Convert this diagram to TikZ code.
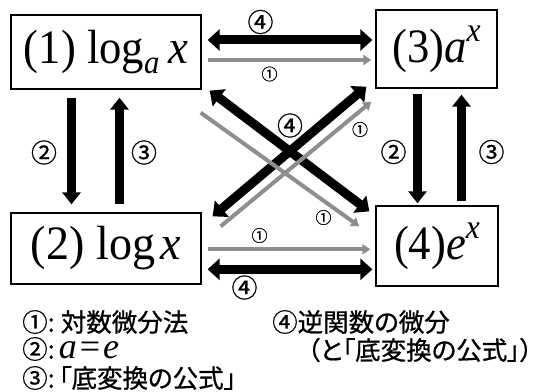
\documentclass[tikz,border=0pt]{standalone}
\usepackage{fontspec}
\usepackage{graphicx}
\setmainfont{Liberation Serif}
\newfontfamily\jp{Noto Sans CJK JP}[RawFeature=+palt, FakeBold=0.8]
\usetikzlibrary{arrows.meta,calc}
\definecolor{arrgray}{RGB}{142,142,142}
\begin{document}
\begin{tikzpicture}[x=1pt,y=1pt,
  box/.style={draw, line width=1.3pt, inner sep=0pt, font=\fontsize{48}{50}\selectfont},
  dbl/.style={line width=9pt, {Triangle[width=21pt,length=12pt]}-{Triangle[width=21pt,length=12pt]}},
  sgl/.style={line width=9pt, -{Triangle[width=18pt,length=12pt]}},
  gry/.style={line width=4pt, draw=arrgray, -{Triangle[width=10pt,length=8pt]}},
  lab/.style={font=\jp\fontsize{26}{26}\selectfont, inner sep=0pt},
  slab/.style={font=\jp\fontsize{16}{16}\selectfont, inner sep=0pt},
  legend/.style={font=\jp\fontsize{25.5}{26}\selectfont, inner sep=0pt, anchor=west}]
\useasboundingbox (0,0) rectangle (535,391);
\fill[white] (0,0) rectangle (535,391);

% boxes
\node[box, minimum width=190pt, minimum height=74pt] (b1) at (106,339)
  {\scalebox{0.93}[1]{(1) log\raisebox{-10pt}{\fontsize{33}{33}\selectfont\itshape a}\hspace{0.2em}\textit{x}}};
\node[box, minimum width=190pt, minimum height=71pt] (b2) at (106,142.5)
  {\scalebox{0.96}[1]{(2) log\hspace{0.12em}\textit{x}}};
\node[box, minimum width=121pt, minimum height=78pt] (b3) at (436.5,342)
  {\scalebox{0.93}[1]{(3)\textit{a}\raisebox{21pt}{\fontsize{34}{34}\selectfont\itshape x}}};
\node[box, minimum width=122pt, minimum height=80pt] (b4) at (437,145)
  {\scalebox{0.93}[1]{(4)\textit{e}\raisebox{21pt}{\fontsize{34}{34}\selectfont\itshape x}}};

% vertical arrows
\draw[sgl, shorten <=8pt, shorten >=8pt] ([xshift=-34.5pt]b1.south) -- ([xshift=-34.5pt]b2.north);
\draw[sgl, shorten <=8pt, shorten >=8pt] ([xshift=13.5pt]b2.north) -- ([xshift=13.5pt]b1.south);
\draw[sgl, shorten <=5pt, shorten >=2pt] ([xshift=-19pt]b3.south) -- ([xshift=-19.5pt]b4.north);
\draw[sgl, shorten <=4pt, shorten >=6pt] ([xshift=24.5pt]b4.north) -- ([xshift=25pt]b3.south);

% horizontal arrows
\draw[dbl, shorten <=6pt, shorten >=3pt] ([yshift=12pt]b1.east) -- ([yshift=9pt]b3.west);
\draw[gry, shorten <=6pt, shorten >=4pt] ([yshift=-8pt]b1.east) -- ([yshift=-11pt]b3.west);
\draw[gry, shorten <=6pt, shorten >=5pt] ([yshift=-0.8pt]b2.east) -- ([yshift=-3.3pt]b4.west);
\draw[dbl, shorten <=6pt, shorten >=3pt] ([yshift=-20.8pt]b2.east) -- ([yshift=-23.3pt]b4.west);

% diagonal arrows
\draw[dbl] ([shift={(8,-1)}]b1.south east) -- ([shift={(-6,-6)}]b4.north west);
\draw[dbl] ([shift={(11,-4)}]b2.north east) -- ([shift={(-9,2)}]b3.south west);
\draw[gry] ([shift={(-1,-23)}]b1.south east) -- ([shift={(-16,-21)}]b4.north west);
\draw[gry] ([shift={(19,-14)}]b2.north east) -- ([shift={(-4,-13)}]b3.south west);

% labels
\node[lab] (t4) at (260.5,369) {④};
\node[slab] (t1) at (269.5,317) {①};
\node[lab] (l2) at (44,238.5) {②};
\node[lab] (l3) at (144,238.5) {③};
\node[lab] (r2) at (393.5,239) {②};
\node[lab] (r3) at (491.5,239) {③};
\node[slab] (u1) at (259.5,155.5) {①};
\node[lab] (u4) at (244.5,103.5) {④};
\node[lab] (c4) at (290,265.5) {④};
\node[slab] (c1a) at (360,261.5) {①};
\node[slab] (c1b) at (323.5,173.5) {①};

% legend
\node[legend] (g1) at (22,69) {①:\hspace{6pt}対数微分法};
\node[legend] (g2) at (22,42) {②:\hspace{4pt}\smash{\rmfamily\fontsize{36}{36}\selectfont\textit{a}\hspace{3pt}=\hspace{3pt}\textit{e}}};
\node[legend] (g3) at (22,13) {③:\hspace{4pt}「底変換の公式」};
\node[legend] (g4) at (272,69) {④逆関数の微分};
\node[legend] (g5) at (307,41) {（と「底変換の公式」）};
\end{tikzpicture}
\end{document}
